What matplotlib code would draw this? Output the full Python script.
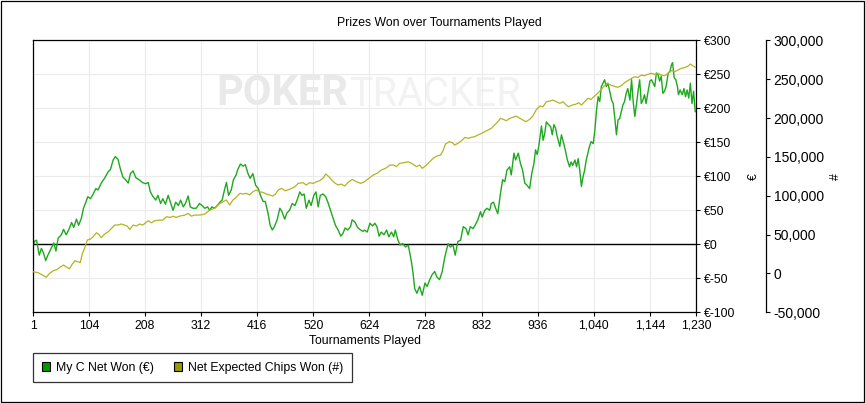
import matplotlib
matplotlib.use('Agg')
import matplotlib.pyplot as plt
from matplotlib.patches import Patch, Rectangle

plt.rcParams['font.family'] = ['Liberation Sans', 'DejaVu Sans']
FS = 8.8

# ---------------- data ----------------
green_t = [1, 4, 7, 12, 16, 20, 24, 28, 34, 39, 43, 47, 53, 57, 62, 67, 72, 76, 81, 85,
           90, 94, 98, 102, 107, 112, 117, 121, 127, 133, 140, 144, 149, 153, 158, 162, 167, 172, 177, 181,
           186, 191, 197, 203, 209, 214, 218, 223, 228, 232, 237, 241, 246, 251, 256, 260, 265, 270, 274, 279,
           283, 288, 292, 297, 303,
           309, 314, 319, 324, 328, 332, 337, 342, 347, 351, 356, 359, 363, 368, 372, 377, 380, 385, 390, 394,
           399, 403, 408, 413, 418, 422, 427, 431, 436, 440, 444, 448, 453, 458, 462, 467, 471, 476, 481, 486,
           490, 495, 499, 503, 507, 512, 516, 521, 525, 529, 533, 538, 543, 547, 552, 557, 561, 566, 571, 575,
           579, 584, 589, 592, 597, 602, 606, 612,
           615, 620, 625, 630, 634, 638, 642, 646, 651, 656, 660, 665, 669, 672, 677, 681, 686, 691, 696, 699,
           702, 705, 708, 712, 717, 722, 727, 731, 736, 740, 745, 749, 754, 759, 764, 770, 774, 779, 783, 788,
           793, 798, 803, 807, 811, 816, 820, 825, 830, 833, 838, 842, 847, 850, 854, 858, 862, 867, 871, 875,
           879, 884, 887, 892, 895, 900, 904, 908, 912, 916,
           921, 925, 929, 932, 935, 938, 943, 946, 949, 952, 956, 960, 963, 966, 969, 972, 977, 980, 984, 987,
           991, 995, 998, 1001, 1005, 1008, 1011, 1014, 1017, 1020, 1023, 1026, 1029, 1032, 1035, 1039, 1042,
           1045, 1048, 1051, 1054, 1057, 1060, 1063, 1066, 1069, 1073, 1076, 1079, 1082, 1085, 1088, 1091, 1094,
           1097, 1100, 1103, 1107, 1110, 1113, 1116, 1119, 1122, 1125, 1128, 1131, 1134, 1137, 1140, 1144, 1147,
           1150, 1153, 1156, 1159, 1162, 1165, 1168, 1171, 1174, 1178, 1181, 1184, 1186, 1189, 1192, 1195, 1197,
           1200, 1204, 1207, 1210, 1213, 1216, 1219, 1222, 1225, 1228, 1230]
green_won = [0, 5, 6, -16, -6, -13, -24, -16, -6, 2, -10, 9, 14, 22, 14, 22, 32, 25, 37, 28,
             38, 53, 61, 70, 67, 74, 82, 80, 90, 97, 107, 110, 124, 129, 125, 112, 99, 95, 90, 104,
             108, 98, 95, 91, 89, 91, 77, 70, 65, 72, 60, 67, 59, 72, 60, 50, 62, 57, 65, 55,
             60, 71, 55, 53, 53,
             60, 57, 53, 55, 50, 55, 53, 57, 62, 65, 82, 91, 72, 80, 95, 102, 110, 118, 115, 117,
             104, 97, 104, 87, 82, 72, 63, 63, 46, 28, 21, 26, 36, 53, 48, 37, 46, 50, 60, 57,
             65, 77, 72, 74, 53, 65, 57, 72, 77, 55, 72, 74, 70, 62, 50, 38, 28, 21, 12, 16,
             24, 21, 26, 36, 33, 25, 22, 19,
             21, 18, 31, 27, 31, 26, 12, 18, 14, 21, 11, 18, 11, 21, 6, -1, 1, -4, -1, -13,
             -26, -43, -65, -72, -62, -75, -57, -62, -52, -45, -40, -48, -52, -40, -18, 1, -4, -1, -16, 4,
             6, 26, 23, 14, 26, 23, 28, 36, 48, 40, 50, 53, 50, 60, 62, 53, 45, 75, 95, 92,
             109, 114, 102, 134, 124, 134, 119, 109, 90, 87,
             82, 104, 119, 139, 132, 144, 174, 153, 163, 180, 176, 173, 161, 176, 171, 159, 144, 161, 149, 139,
             124, 114, 121, 116, 124, 114, 126, 109, 85, 99, 109, 124, 134, 144, 151, 148, 168,
             197, 217, 210, 232, 237, 242, 232, 237, 227, 212, 207, 185, 161, 183, 185, 195, 205,
             210, 222, 229, 212, 242, 210, 188, 205, 225, 242, 207, 212, 220, 207, 222, 240, 242,
             237, 232, 252, 250, 240, 247, 222, 225, 232, 252, 254, 264, 267, 245, 242, 232, 220,
             227, 220, 229, 217, 227, 215, 237, 207, 225, 195, 195]

chips_t = [1, 10, 18, 25, 31, 38, 44, 50, 57, 62, 68, 73, 78, 84, 88, 92, 96, 101, 107, 112,
           118, 123, 127, 133, 140, 146, 152, 158, 164, 170, 175, 180, 186, 192, 198, 204, 214, 220, 226, 234,
           241, 248, 255, 260, 266, 272, 282, 288, 294, 300,
           309, 319, 328, 337, 347, 353, 359, 365, 371, 377, 384, 390, 396, 402, 408, 414, 421, 427, 433, 439,
           445, 450, 455, 461, 468, 476, 486, 492, 501, 507, 513, 520, 526, 532, 538, 543, 549, 555, 561, 566,
           572, 578, 584, 592, 600, 608,
           615, 623, 631, 638, 646, 654, 662, 669, 674, 680, 688, 696, 704, 711, 717, 722, 730, 736, 742, 749,
           756, 761, 765, 772, 778, 782, 788, 795, 801, 807, 813, 819, 825, 832, 838, 844, 850, 856, 862, 867,
           872, 878, 884, 890, 896, 903, 908, 914,
           921, 927, 933, 940, 946, 952, 958, 964, 971, 977, 983, 987, 993, 1000, 1006, 1012, 1017, 1023, 1029,
           1035, 1040, 1047, 1053, 1059, 1065, 1071, 1077, 1084, 1090, 1097, 1103, 1110, 1116, 1122, 1128,
           1134, 1140, 1147, 1153, 1159, 1165, 1171, 1178, 1184, 1190, 1196, 1202, 1208, 1215, 1219, 1224, 1230]
chips_won_k = [2.2, 0.9, -2.0, -5.0, 0, 3.5, 4.7, 7.8, 10.8, 8.5, 6.0, 11.8, 16.3, 15.0, 13.8, 25.8, 32.3, 43.0, 44.3, 47.2,
               52.4, 49.8, 46.0, 50.6, 53.7, 58.0, 62.3, 62.3, 63.6, 62.3, 61.0, 56.7, 62.3, 61.0, 63.6, 62.3, 67.8, 65.2, 67.8, 68.6,
               68.6, 73.0, 72.0, 73.7, 72.0, 73.7, 75.1, 77.3, 73.7, 75.1,
               75.1, 76.4, 81.6, 83.8, 90.2, 92.3, 94.5, 88.0, 94.5, 97.9, 103.1, 102.2, 103.1, 101.0, 105.1, 107.3, 105.1, 104.2, 102.2, 101.0,
               99.6, 102.2, 107.3, 109.5, 106.4, 108.2, 111.6, 115.9, 116.8, 113.8, 116.8, 115.9, 118.0, 119.4, 122.4, 127.9, 124.5, 119.4, 115.9, 113.8,
               115.0, 112.5, 116.8, 121.0, 118.0, 115.9,
               118.0, 122.4, 126.6, 128.8, 133.1, 135.2, 139.5, 139.5, 137.4, 141.7, 142.5, 143.7, 141.0, 137.4, 139.5, 135.2, 139.5, 143.7, 148.1, 151.1,
               152.3, 158.8, 166.5, 169.5, 168.2, 165.2, 167.4, 170.8, 175.1, 173.8, 175.1, 175.9, 178.1, 180.3, 182.4, 184.5, 186.7, 191.0, 195.2, 199.6,
               198.3, 196.5, 199.6, 200.9, 202.5, 199.6, 197.4, 195.2,
               198.3, 202.5, 210.3, 215.4, 214.6, 220.9, 221.8, 223.1, 220.9, 218.9, 220.9, 218.0, 214.5, 216.7, 217.6, 219.7, 216.7, 220.9, 225.3,
               224.0, 227.4, 231.7, 236.0, 241.1, 244.6, 242.5, 241.1, 239.5, 241.1, 245.4, 248.0, 251.1, 253.1, 252.2, 255.3,
               254.4, 256.2, 257.5, 256.2, 257.5, 255.3, 254.4, 257.5, 260.9, 259.6, 261.7, 263.9, 264.8, 266.9, 269.5, 266.9, 264.8]
chips_won = [v * 1000 for v in chips_won_k]

x_ticks = [1, 104, 208, 312, 416, 520, 624, 728, 832, 936, 1040, 1144, 1230]
x_tick_labels = ['1', '104', '208', '312', '416', '520', '624', '728', '832', '936', '1,040', '1,144', '1,230']
eur_ticks = [-100, -50, 0, 50, 100, 150, 200, 250, 300]
eur_tick_labels = ['€-100', '€-50', '€0', '€50', '€100', '€150', '€200', '€250', '€300']
chip_ticks = [-50000, 0, 50000, 100000, 150000, 200000, 250000, 300000]
chip_tick_labels = ['-50,000', '0', '50,000', '100,000', '150,000', '200,000', '250,000', '300,000']

series_names = ['My C Net Won (€)', 'Net Expected Chips Won (#)']
line_colors = ['#1ea81e', '#b3b324']
legend_colors = ['#009900', '#999900']

# ---------------- figure ----------------
W, H = 865, 403
fig = plt.figure(figsize=(W / 100, H / 100), dpi=100)
fig.patch.set_facecolor('white')
L, R, T, B = 33.3, 696.3, 40.3, 312.3
ax = fig.add_axes([L / W, 1 - B / H, (R - L) / W, (B - T) / H])
ax.set_facecolor('white')
ax2 = ax.twinx()

# watermark
wm = ax.text((216 - L) / (R - L), (B - 105) / (B - T), 'POKER', transform=ax.transAxes,
             fontsize=30, fontweight='bold', family='Roboto', color='#e9e9e9',
             ha='left', va='baseline', zorder=0.5)
ax.annotate('TRACKER', xy=(1, 0), xycoords=wm, xytext=(1, 0), textcoords='offset points',
            fontsize=28.5, family='Roboto', color='#f2f2f2', ha='left', va='bottom', zorder=0.5)

ax.set_xlim(1, 1230)
ax.set_ylim(-100, 300)
ax.set_xticks(x_ticks)
ax.set_xticklabels(x_tick_labels, fontsize=FS)
ax.yaxis.tick_right()
ax.set_yticks(eur_ticks)
ax.set_yticklabels(eur_tick_labels, fontsize=FS)
ax.tick_params(axis='both', direction='out', length=3, width=0.8, color='black', pad=2.5)
ax.tick_params(axis='y', left=False, labelleft=False, right=True, labelright=True)
ax.grid(True, color='#ebebeb', lw=0.8, zorder=0)
ax.set_axisbelow(True)
for s in ax.spines.values():
    s.set_color('black')
    s.set_linewidth(0.9)
ax.axhline(0, color='black', lw=1.0, zorder=1)

ax.plot(green_t, green_won, color=line_colors[0], lw=1.0, zorder=2)

ax.set_xlabel('Tournaments Played', fontsize=FS, labelpad=2)
ax.yaxis.set_label_position('right')
ax.set_ylabel('€', fontsize=FS, rotation=90)
ax.yaxis.set_label_coords((748 - L) / (R - L), 0.5)

ax2.set_ylim(-50000, 300000)
ax2.set_yticks(chip_ticks)
ax2.set_yticklabels(chip_tick_labels, fontsize=FS)
for side in ['top', 'left', 'bottom']:
    ax2.spines[side].set_visible(False)
ax2.spines['right'].set_position(('outward', (766 - R) * 0.72))
ax2.spines['right'].set_color('black')
ax2.spines['right'].set_linewidth(0.9)
ax2.tick_params(axis='y', direction='out', length=3, width=0.8, color='black', pad=2.5)
ax2.plot(chips_t, chips_won, color=line_colors[1], lw=0.9, zorder=3)
ax2.set_ylabel('#', fontsize=FS, rotation=90)
ax2.yaxis.set_label_coords((830 - L) / (R - L), 0.5)

fig.text(439 / W, 1 - 22.7 / H, 'Prizes Won over Tournaments Played', fontsize=FS,
         ha='center', va='center')

handles = [Patch(facecolor=c, edgecolor='black', linewidth=0.8) for c in legend_colors]
leg = fig.legend(handles, series_names, loc='upper left', bbox_to_anchor=(33 / W, 1 - 353 / H),
                 ncol=2, fontsize=FS, frameon=True, fancybox=False, borderaxespad=0,
                 handlelength=0.7, handleheight=0.7, handletextpad=0.5, columnspacing=1.6,
                 borderpad=0.7)
leg.get_frame().set_edgecolor('black')
leg.get_frame().set_linewidth(0.9)

fig.patches.append(Rectangle((0.5 / W, 1.5 / H), (W - 2) / W, (H - 2) / H, transform=fig.transFigure,
                             fill=False, edgecolor='black', linewidth=0.9))

fig.savefig('out.png', dpi=100)
